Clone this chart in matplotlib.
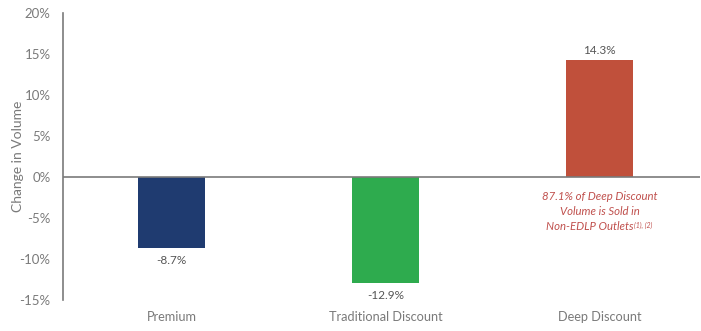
import matplotlib
matplotlib.use("Agg")
import matplotlib.pyplot as plt
from matplotlib.ticker import FuncFormatter

categories = ["Premium", "Traditional Discount", "Deep Discount"]
changes = [-8.7, -12.9, 14.3]
colors = ["#1F3B70", "#2EAB4E", "#C0503B"]
yticks = [-15, -10, -5, 0, 5, 10, 15, 20]
note_lines = ["87.1% of Deep Discount", "Volume is Sold in", "Non-EDLP Outlets"]
note_refs = "(1), (2)"

gray = "#7a7a7a"
note_color = "#C0504D"
plt.rcParams["font.family"] = ["Lato", "DejaVu Sans"]

fig = plt.figure(figsize=(7.01, 3.31), dpi=100)
ax = fig.add_axes([0.0899, 0.0937, 0.9087, 0.867])

x = range(len(categories))
ax.bar(x, changes, width=0.313, color=colors, zorder=2)

ax.set_xlim(-0.507, 2.47)
ax.set_ylim(-15, 20)
ax.set_yticks(yticks)
ax.yaxis.set_major_formatter(FuncFormatter(lambda v, p: f"{v:.0f}%"))
ax.tick_params(axis="y", length=0, pad=9, labelsize=9.5, labelcolor=gray)
ax.set_xticks([])

for s in ["top", "right", "bottom"]:
    ax.spines[s].set_visible(False)
ax.spines["left"].set_color(gray)
ax.spines["left"].set_linewidth(1.2)
ax.axhline(0, color=gray, linewidth=1.2, zorder=3)

ax.set_ylabel("Change in Volume", color=gray, fontsize=10)
ax.yaxis.set_label_coords(-0.062, 0.5)

for xi, v in zip(x, changes):
    if v < 0:
        ax.annotate(f"{v:.1f}%", (xi, v), xytext=(0, -5), textcoords="offset points",
                    ha="center", va="top", fontsize=8.5, color="#555555")
    else:
        ax.annotate(f"{v:.1f}%", (xi, v), xytext=(0, 3), textcoords="offset points",
                    ha="center", va="bottom", fontsize=8.5, color="#555555")

for xi, name in zip(x, categories):
    ax.text(xi, -16.3, name, ha="center", va="top", fontsize=9.2, color=gray,
            clip_on=False)

# Footnote under the Deep Discount bar, one line at a time
lines = []
for i, line in enumerate(note_lines):
    lines.append(ax.annotate(line, (2, 0), xytext=(0, -10 - i * 11),
                             textcoords="offset points", ha="center", va="top",
                             fontsize=8.2, color=note_color, style="italic"))
refs = ax.annotate(note_refs, (2, 0), xytext=(0, 0), textcoords="offset points",
                   ha="left", va="top", fontsize=5, color=note_color, style="italic")

# Centre the last line together with its superscript references
fig.canvas.draw()
ref_w_pt = refs.get_window_extent().width * 72 / fig.dpi
last = lines[-1]
ox, oy = last.xyann
last.xyann = (ox - (ref_w_pt + 0.5) / 2, oy)
fig.canvas.draw()
bb = last.get_window_extent()
x_end, y_top = ax.transData.inverted().transform((bb.x1, bb.y1))
refs.xy = (x_end, y_top)
refs.xyann = (0.5, 0)

fig.savefig("out.png", dpi=100)
